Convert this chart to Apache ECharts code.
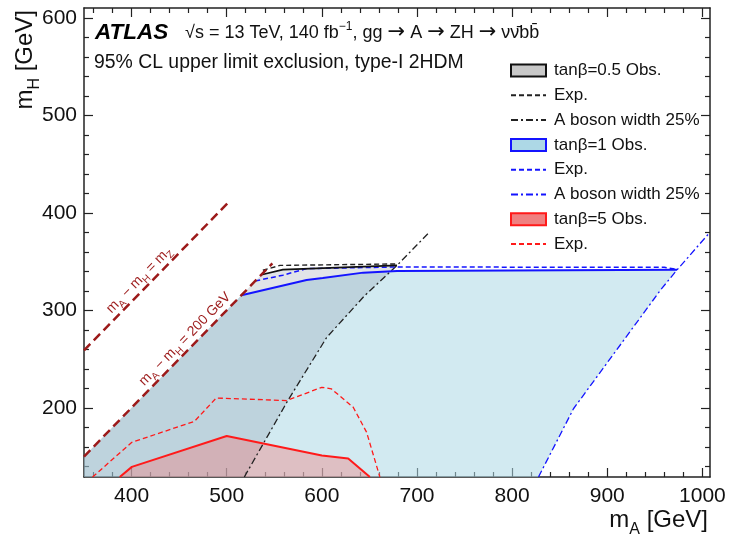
<!DOCTYPE html>
<html><head><meta charset="utf-8">
<script src="https://cdn.jsdelivr.net/npm/echarts@6/dist/echarts.min.js"></script>
<style>html,body{margin:0;padding:0;background:#fff}#c{width:730px;height:534px}</style>
</head><body><div id="c"></div>
<script>
// ---- tick values ----
const xMajorTicks = [400,500,600,700,800,900,1000];
const xMinorTicks = [360,380,420,440,460,480,520,540,560,580,620,640,660,680,720,740,760,780,820,840,860,880,920,940,960,980];
const yMajorTicks = [200,300,400,500,600];
const yMinorTicks = [140,160,180,220,240,260,280,320,340,360,380,420,440,460,480,520,540,560,580];

// ---- curves: [mA, mH] in GeV ----
const lineMZ  = [[350,258.8],[501,409.8]];
const line200 = [[350,150],[548,348]];

const tb05Obs   = [[536.5,336.5],[559,341.7],[679,346]];
const tb05Exp   = [[538,341],[556,346],[679,347.5]];
const tb05Width = [[518.5,129],[564,207],[605,272],[645,315],[679,346],[712,379]];

const tb1Obs   = [[515.5,315.5],[584,331],[601,333],[643.5,338.6],[679,340.3],[973.4,341.5]];
const tb1Exp   = [[530,330],[559,336],[584,342.7],[679,344.4],[960,344],[973.4,342]];
const tb1Width = [[827.7,129],[864.5,199],[955.8,320.5],[973.4,341.5],[1008,380]];

const tb5Obs = [[387.6,129],[400.3,139.4],[500,171],[600,151],[627.7,148],[650.5,129]];
const tb5Exp = [[359,129],[400.3,164.6],[466,186],[489,210],[563,207.4],[600,221],[610,219.4],[633,200.5],[647,175],[661,129]];

const legendNames = ['k_obs','k_exp','k_wid','b_obs','b_exp','b_wid','r_obs','r_exp'];
const legendTexts = ['tan\u03b2=0.5 Obs.','Exp.','A boson width 25%','tan\u03b2=1 Obs.','Exp.','A boson width 25%','tan\u03b2=5 Obs.','Exp.'];

// ---- regions built from the curves ----
const tb05Region = [[350,129],[350,150]].concat(tb05Obs, tb05Width.slice(0,5).reverse());
const tb1Region  = [[350,129],[350,150]].concat(tb1Obs, tb1Width.slice(0,4).reverse());
const tb5Region  = tb5Obs.slice();

const FONT = '"Liberation Sans", Arial, Helvetica, sans-serif';
const C_BLACK = '#111111', C_BLUE = '#1414ff', C_RED = '#ff1a1a', C_DRED = '#9c1a1a';

function poly(name, pts, fill, z) {
  return {
    type: 'custom', name: name, z: z, silent: true,
    xAxisIndex: 0, yAxisIndex: 0,
    data: pts, encode: {x: 0, y: 1},
    itemStyle: {color: fill},
    renderItem: function (params, api) {
      if (params.dataIndex !== 0) return null;
      return {type: 'polygon', shape: {points: pts.map(function (p) { return api.coord(p); })}, style: {fill: fill}};
    }
  };
}
function line(name, pts, color, width, type, z) {
  return {
    type: 'line', name: name, data: pts, xAxisIndex: 0, yAxisIndex: 0,
    symbol: 'none', silent: true, z: z || 10, animation: false,
    lineStyle: {color: color, width: width, type: type}
  };
}

function mkAxis(kind, pos, labels, ticks, len, show) {
  const isX = kind === 'x';
  return {
    type: 'value', position: pos,
    min: isX ? 350 : 129, max: isX ? 1008 : 610,
    axisLine: {show: show, onZero: false, lineStyle: {color: '#222', width: 1.5}},
    axisTick: {show: true, inside: true, length: len, customValues: ticks, lineStyle: {color: '#222', width: 1.2}},
    axisLabel: labels ? {show: true, customValues: ticks, fontSize: 21, color: '#111', fontFamily: FONT, margin: isX ? 9 : 7,
                         formatter: function (v) { return String(v); }} : {show: false},
    splitLine: {show: false}
  };
}

const chart = echarts.init(document.getElementById('c'), null, {renderer: 'canvas'});
const option = {
  animation: false,
  backgroundColor: '#fff',
  textStyle: {fontFamily: FONT},
  grid: {left: 84, right: 20, top: 8, bottom: 57, containLabel: false},
  xAxis: [
    mkAxis('x', 'bottom', true, xMajorTicks, 9, true),
    mkAxis('x', 'bottom', false, xMinorTicks, 5, false),
    mkAxis('x', 'top', false, xMajorTicks, 9, true),
    mkAxis('x', 'top', false, xMinorTicks, 5, false)
  ],
  yAxis: [
    mkAxis('y', 'left', true, yMajorTicks, 9, true),
    mkAxis('y', 'left', false, yMinorTicks, 5, false),
    mkAxis('y', 'right', false, yMajorTicks, 9, true),
    mkAxis('y', 'right', false, yMinorTicks, 5, false)
  ],
  legend: {
    orient: 'vertical', left: 505, top: 57, itemWidth: 35, itemHeight: 12, itemGap: 7.8,
    selectedMode: false,
    textStyle: {fontSize: 17, color: '#111', fontFamily: FONT, padding: [0, 0, 0, 3]},
    formatter: function (n) { return legendTexts[legendNames.indexOf(n)]; },
    data: [
      {name: 'k_obs', icon: 'rect', itemStyle: {color: '#c8c8c8', borderColor: '#111', borderWidth: 2}},
      {name: 'k_exp', itemStyle: {opacity: 0}},
      {name: 'k_wid', itemStyle: {opacity: 0}},
      {name: 'b_obs', icon: 'rect', itemStyle: {color: '#add8e6', borderColor: C_BLUE, borderWidth: 2}},
      {name: 'b_exp', itemStyle: {opacity: 0}},
      {name: 'b_wid', itemStyle: {opacity: 0}},
      {name: 'r_obs', icon: 'rect', itemStyle: {color: '#f08080', borderColor: C_RED, borderWidth: 2}},
      {name: 'r_exp', itemStyle: {opacity: 0}}
    ]
  },
  series: [
    poly('b_obs', tb1Region, 'rgba(173,216,230,0.55)', 1),
    poly('k_obs', tb05Region, 'rgba(120,130,150,0.22)', 2),
    poly('r_obs', tb5Region, 'rgba(240,128,128,0.40)', 3),
    line('dline_mz', lineMZ, C_DRED, 2.5, [9, 5], 12),
    line('dline_200', line200, C_DRED, 2.5, [9, 5], 12),
    line('k_wid', tb05Width, '#222', 1.3, [7, 3, 2, 3]),
    line('b_wid', tb1Width, C_BLUE, 1.3, [7, 3, 2, 3]),
    line('r_exp', tb5Exp, C_RED, 1.3, [5, 3]),
    line('r_obs_line', tb5Obs, C_RED, 2),
    line('b_exp', tb1Exp, C_BLUE, 1.5, [5, 3]),
    line('b_obs_line', tb1Obs, C_BLUE, 2),
    line('k_exp', tb05Exp, '#222', 1.4, [5, 3]),
    line('k_obs_line', tb05Obs, C_BLACK, 1.6)
  ]
};
chart.setOption(option);

// ---- texts ----
const subRich = function (fs, sfs, pad, color) {
  return {
    m: {fontSize: fs, fontFamily: FONT, fill: color, lineHeight: fs},
    s: {fontSize: sfs, fontFamily: FONT, fill: color, lineHeight: sfs, padding: [pad, 0, 0, 0]}
  };
};
const headRich = {
  t: {fontSize: 18, fontFamily: FONT, fill: '#111', lineHeight: 18},
  a: {fontSize: 21, fontFamily: '"DejaVu Sans", sans-serif', fill: '#111', lineHeight: 18},
  sup: {fontSize: 12, fontFamily: FONT, fill: '#111', lineHeight: 12, padding: [0, 0, 12, 0]}
};
const toPx = function (p) { return chart.convertToPixel({xAxisIndex: 0, yAxisIndex: 0}, p); };
const a1 = toPx(line200[0]), a2 = toPx(line200[1]);
const rot = Math.atan2(a1[1] - a2[1], a2[0] - a1[0]);
const lblMZ = toPx([407.8, 331]);
const lbl200 = toPx([456.2, 270.5]);

chart.setOption({
  graphic: [
    {type: 'text', x: 95, y: 33, z: 50, style: {text: 'ATLAS', fontSize: 22.5, fontWeight: 'bold', fontStyle: 'italic', fontFamily: FONT, fill: '#000', align: 'left', verticalAlign: 'middle'}},
    {type: 'text', x: 185, y: 33, z: 50, style: {text: '{t|\u221as = 13 TeV, 140 fb}{sup|\u22121}{t|, gg }{a|\u2192}{t| A }{a|\u2192}{t| ZH }{a|\u2192}{t| \u03bd\u03bd\u0304bb\u0304}', rich: headRich, align: 'left', verticalAlign: 'middle'}},
    {type: 'text', x: 94, y: 63, z: 50, style: {text: '95% CL upper limit exclusion, type-I 2HDM', fontSize: 19.4, fontFamily: FONT, fill: '#111', align: 'left', verticalAlign: 'middle'}},
    {type: 'text', x: 708, y: 520, z: 50, style: {text: '{m|m}{s|A}{m| [GeV]}', rich: subRich(24, 16, 20, '#111'), align: 'right', verticalAlign: 'middle'}},
    {type: 'text', x: 25, y: 10, z: 50, rotation: Math.PI / 2, style: {text: '{m|m}{s|H}{m| [GeV]}', rich: subRich(24, 16, 20, '#111'), align: 'right', verticalAlign: 'middle'}},
    {type: 'text', x: lblMZ[0], y: lblMZ[1], z: 50, rotation: rot, style: {text: '{m|m}{s|A}{m| \u2212 m}{s|H}{m| = m}{s|Z}', rich: subRich(14, 10, 10, C_DRED), align: 'center', verticalAlign: 'middle'}},
    {type: 'text', x: lbl200[0], y: lbl200[1], z: 50, rotation: rot, style: {text: '{m|m}{s|A}{m| \u2212 m}{s|H}{m| = 200 GeV}', rich: subRich(14, 10, 10, C_DRED), align: 'center', verticalAlign: 'middle'}}
  ]
});
</script>
</body></html>
